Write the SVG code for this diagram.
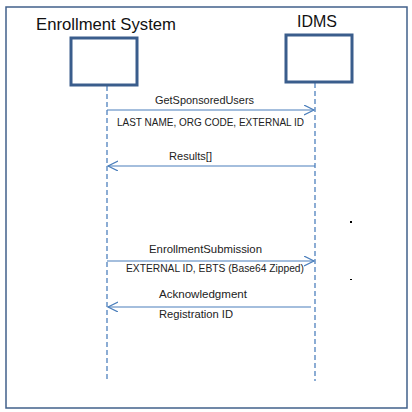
<svg xmlns="http://www.w3.org/2000/svg" width="412" height="412" viewBox="0 0 412 412">
<style>
.title{font-family:"Liberation Sans",Arial,sans-serif;font-size:16.5px;fill:#111}
.lbl{font-family:"Liberation Sans",Arial,sans-serif;font-size:11px;fill:#222}
.box{fill:#fff;stroke:#3a5d8c;stroke-width:3}
.life{stroke:#4f81bd;stroke-width:1.3;stroke-dasharray:5,3;fill:none}
.msg{stroke:#4a7ebb;stroke-width:1.2;fill:none}
</style>
<defs>
<marker id="arr" markerWidth="12" markerHeight="12" refX="10" refY="5" orient="auto" markerUnits="userSpaceOnUse">
<path d="M0,0 L10,5 L0,10" fill="none" stroke="#4a7ebb" stroke-width="1.2"/>
</marker>
</defs>
<rect x="6" y="7" width="401" height="401" fill="#fff" stroke="#41608a" stroke-width="1.5"/>
<g id="connectors">
<line class="life" x1="107" y1="86" x2="107" y2="380"/>
<line class="life" x1="315" y1="83" x2="315" y2="381"/>
<line class="msg" x1="107" y1="110" x2="314" y2="110" marker-end="url(#arr)"/>
<line class="msg" x1="315" y1="166" x2="108" y2="166" marker-end="url(#arr)"/>
<line class="msg" x1="107" y1="261" x2="314" y2="261" marker-end="url(#arr)"/>
<line class="msg" x1="311" y1="307" x2="108" y2="307" marker-end="url(#arr)"/>
<text class="lbl" x="155" y="104" textLength="99" lengthAdjust="spacingAndGlyphs">GetSponsoredUsers</text>
<text class="lbl" x="117" y="126" textLength="187" lengthAdjust="spacingAndGlyphs">LAST NAME, ORG CODE, EXTERNAL ID</text>
<text class="lbl" x="169" y="160" textLength="43" lengthAdjust="spacingAndGlyphs">Results[]</text>
<text class="lbl" x="149" y="253" textLength="113" lengthAdjust="spacingAndGlyphs">EnrollmentSubmission</text>
<text class="lbl" x="126" y="272" textLength="178" lengthAdjust="spacingAndGlyphs">EXTERNAL ID, EBTS (Base64 Zipped)</text>
<text class="lbl" x="159" y="298" textLength="88" lengthAdjust="spacingAndGlyphs">Acknowledgment</text>
<text class="lbl" x="159" y="318" textLength="74" lengthAdjust="spacingAndGlyphs">Registration ID</text>
</g>
<g id="enrollment-system">
<text class="title" x="36" y="30" textLength="140" lengthAdjust="spacingAndGlyphs">Enrollment System</text>
<rect class="box" x="71" y="38" width="66" height="47"/>
</g>
<g id="idms">
<text class="title" x="297" y="27" textLength="40" lengthAdjust="spacingAndGlyphs">IDMS</text>
<rect class="box" x="286" y="35" width="66" height="47"/>
</g>
<rect x="350" y="221" width="2" height="2" fill="#000"/>
<rect x="350" y="279" width="2" height="1" fill="#000"/>
</svg>
